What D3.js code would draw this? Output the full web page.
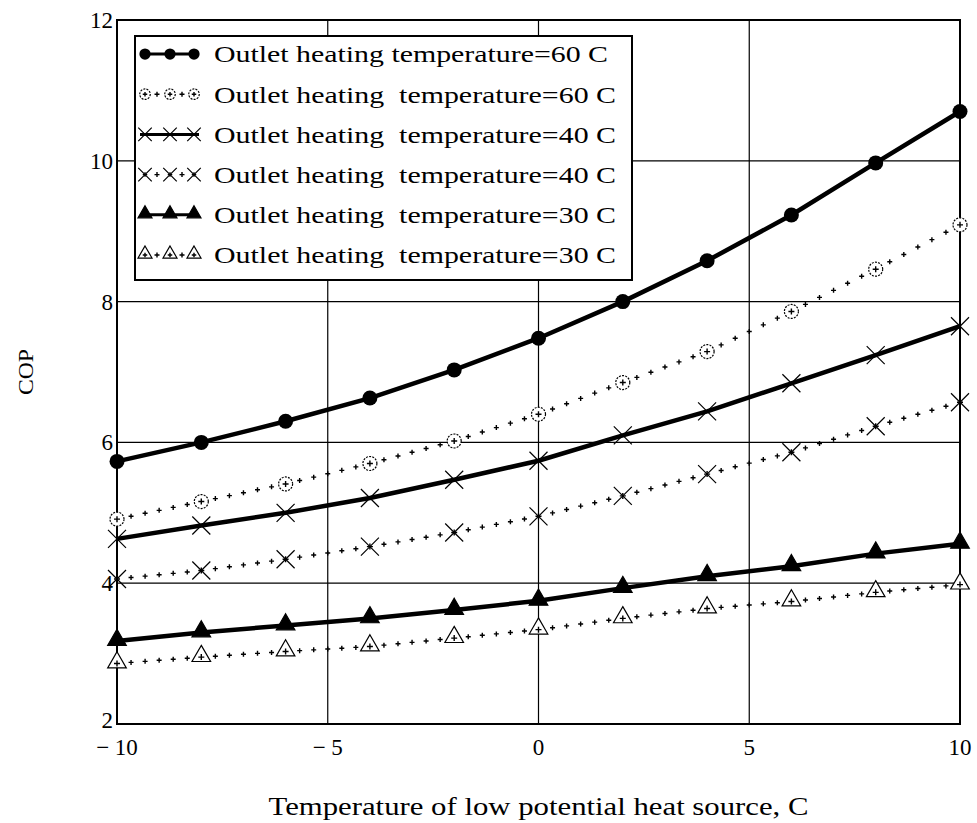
<!DOCTYPE html>
<html>
<head>
<meta charset="utf-8">
<script src="https://cdn.jsdelivr.net/npm/d3@7"></script>
<style>
  body { margin: 0; background: #fff; }
  svg { display: block; }
  text { font-family: "Liberation Serif", "DejaVu Serif", serif; fill: #000; }
</style>
</head>
<body>
<div id="chart"></div>
<script>
// source temperature, C
var temps = [-10, -8, -6, -4, -2, 0, 2, 4, 6, 8, 10];

// COP curves
var cop60a = [5.73, 6.00, 6.30, 6.63, 7.03, 7.48, 8.00, 8.58, 9.23, 9.97, 10.70];
var cop60b = [4.91, 5.16, 5.41, 5.70, 6.02, 6.40, 6.85, 7.29, 7.86, 8.46, 9.09];
var cop40a = [4.63, 4.82, 5.00, 5.21, 5.47, 5.74, 6.10, 6.44, 6.84, 7.24, 7.65];
var cop40b = [4.06, 4.18, 4.34, 4.52, 4.72, 4.95, 5.24, 5.55, 5.86, 6.23, 6.57];
var cop30a = [3.18, 3.30, 3.40, 3.50, 3.62, 3.75, 3.93, 4.10, 4.24, 4.42, 4.56];
var cop30b = [2.86, 2.95, 3.03, 3.10, 3.22, 3.34, 3.50, 3.64, 3.74, 3.87, 3.98];

var legendLabels = [
    "Outlet heating temperature=60 C",
    "Outlet heating  temperature=60 C",
    "Outlet heating  temperature=40 C",
    "Outlet heating  temperature=40 C",
    "Outlet heating  temperature=30 C",
    "Outlet heating  temperature=30 C"
];

var xTicks = [-10, -5, 0, 5, 10];
var yTicks = [2, 4, 6, 8, 10, 12];

var series = [
    { values: cop60a, marker: "dot", dotted: false },
    { values: cop60b, marker: "ring", dotted: true },
    { values: cop40a, marker: "cross", dotted: false },
    { values: cop40b, marker: "cross", dotted: true },
    { values: cop30a, marker: "tri", dotted: false },
    { values: cop30b, marker: "otri", dotted: true }
];

var width = 977,
    height = 823,
    margin = { top: 20, right: 17, bottom: 99, left: 117 };

var x = d3.scaleLinear().domain([-10, 10]).range([margin.left, width - margin.right]);
var y = d3.scaleLinear().domain([2, 12]).range([height - margin.bottom, margin.top]);

var svg = d3.select("#chart").append("svg")
    .attr("width", width)
    .attr("height", height);

// grid
svg.append("g")
    .selectAll("line")
    .data(xTicks)
    .enter().append("line")
    .attr("x1", d => x(d)).attr("x2", d => x(d))
    .attr("y1", y(2)).attr("y2", y(12))
    .attr("stroke", "#000").attr("stroke-width", 1.2);

svg.append("g")
    .selectAll("line")
    .data(yTicks)
    .enter().append("line")
    .attr("x1", x(-10)).attr("x2", x(10))
    .attr("y1", d => y(d)).attr("y2", d => y(d))
    .attr("stroke", "#000").attr("stroke-width", 1.2);

svg.append("rect")
    .attr("x", x(-10)).attr("y", y(12))
    .attr("width", x(10) - x(-10)).attr("height", y(2) - y(12))
    .attr("fill", "none").attr("stroke", "#000").attr("stroke-width", 2);

// tick labels
svg.append("g")
    .selectAll("text")
    .data(yTicks)
    .enter().append("text")
    .attr("x", x(-10) - 4)
    .attr("y", d => d == 2 ? y(d) - 4 : y(d))
    .attr("dy", "0.35em")
    .attr("text-anchor", "end")
    .style("font-size", "23px")
    .text(d => d);

svg.append("g")
    .selectAll("text")
    .data(xTicks)
    .enter().append("text")
    .attr("x", d => x(d))
    .attr("y", y(2) + 31)
    .attr("text-anchor", "middle")
    .style("font-size", "23px")
    .text(d => d < 0 ? "\u2212 " + Math.abs(d) : d);

// axis titles
svg.append("text")
    .attr("x", (x(-10) + x(10)) / 2)
    .attr("y", 815)
    .attr("text-anchor", "middle")
    .attr("textLength", 540)
    .attr("lengthAdjust", "spacingAndGlyphs")
    .style("font-size", "25px")
    .text("Temperature of low potential heat source, C");

svg.append("text")
    .attr("transform", "translate(33," + y(7) + ") rotate(-90)")
    .attr("text-anchor", "middle")
    .attr("textLength", 46)
    .attr("lengthAdjust", "spacingAndGlyphs")
    .style("font-size", "22px")
    .text("COP");

function plus(g, cx, cy, s) {
    g.append("path")
        .attr("d", "M" + (cx - s) + "," + cy + "h" + (2 * s) + "M" + cx + "," + (cy - s) + "v" + (2 * s))
        .attr("stroke", "#000").attr("stroke-width", 1.4).attr("fill", "none");
}

function drawMarker(g, type, cx, cy, dotted, k) {
    k = k || 1;
    if (type == "dot") {
        g.append("circle").attr("cx", cx).attr("cy", cy).attr("r", 7.5 * k).attr("fill", "#000");
    } else if (type == "ring") {
        g.append("circle").attr("cx", cx).attr("cy", cy).attr("r", 7 * k)
            .attr("fill", "#fff").attr("stroke", "#000").attr("stroke-width", 1.2)
            .attr("stroke-dasharray", "2,1.2");
    } else if (type == "cross") {
        var s = 9 * k;
        g.append("path")
            .attr("d", "M" + (cx - s) + "," + (cy - s) + "L" + (cx + s) + "," + (cy + s) +
                "M" + (cx - s) + "," + (cy + s) + "L" + (cx + s) + "," + (cy - s))
            .attr("stroke", "#000").attr("stroke-width", 1.2).attr("fill", "none");
    } else if (type == "tri" || type == "otri") {
        g.append("path")
            .attr("transform", "translate(" + cx + "," + (cy - 1) + ")")
            .attr("d", d3.symbol().type(d3.symbolTriangle).size(150 * k * k)())
            .attr("fill", type == "tri" ? "#000" : "#fff")
            .attr("stroke", "#000").attr("stroke-width", 1.2);
    }
    if (dotted) plus(g, cx, cy, 3 * k);
}

var line = d3.line().x((d, i) => x(temps[i])).y(d => y(d));

var plotG = svg.append("g");

series.forEach(function (s) {
    var g = plotG.append("g");
    if (!s.dotted) {
        g.append("path")
            .attr("d", line(s.values))
            .attr("fill", "none").attr("stroke", "#000").attr("stroke-width", 4.5);
    } else {
        // dotted style: little plus marks along each segment
        for (var i = 0; i < s.values.length - 1; i++) {
            var x0 = x(temps[i]), y0 = y(s.values[i]);
            var x1 = x(temps[i + 1]), y1 = y(s.values[i + 1]);
            for (var k = 1; k < 6; k++) {
                var f = k / 6;
                plus(g, x0 + (x1 - x0) * f, y0 + (y1 - y0) * f, 2.5);
            }
        }
    }
    s.values.forEach(function (v, i) {
        drawMarker(g, s.marker, x(temps[i]), y(v), s.dotted);
    });
});

// legend
var lg = svg.append("g");
lg.append("rect")
    .attr("x", 135).attr("y", 36)
    .attr("width", 497).attr("height", 244)
    .attr("fill", "#fff").attr("stroke", "#000").attr("stroke-width", 2);

legendLabels.forEach(function (lab, i) {
    var s = series[i];
    var cy = 54 + i * 40.2;
    var row = lg.append("g");
    var mx = [145, 170, 194];
    if (!s.dotted) {
        row.append("line").attr("x1", 140).attr("x2", 199).attr("y1", cy).attr("y2", cy)
            .attr("stroke", "#000").attr("stroke-width", 3);
        mx.forEach(m => drawMarker(row, s.marker, m, cy, false, 0.75));
    } else {
        plus(row, 157, cy, 2.5);
        plus(row, 182, cy, 2.5);
        mx.forEach(m => drawMarker(row, s.marker, m, cy, true, 0.75));
    }
    row.append("text")
        .attr("x", 214)
        .attr("y", cy)
        .attr("dy", "0.35em")
        .attr("textLength", i == 0 ? 394 : 402)
        .attr("lengthAdjust", "spacingAndGlyphs")
        .style("font-size", "24px")
        .style("white-space", "pre")
        .text(lab);
});
</script>
</body>
</html>
